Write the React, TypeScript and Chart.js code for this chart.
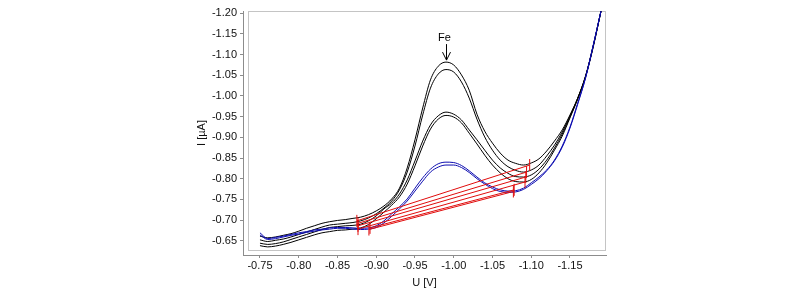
import { useEffect, useRef } from "react";
import { Chart, registerables } from "chart.js";

Chart.register(...registerables);

// ---- data ----
const xValues = [
  -0.75, -0.76, -0.77, -0.78, -0.79, -0.8, -0.81, -0.82, -0.83, -0.84,
  -0.85, -0.86, -0.87, -0.88, -0.89, -0.9, -0.91, -0.92, -0.93, -0.94,
  -0.95, -0.96, -0.97, -0.98, -0.99, -1.0, -1.01, -1.02, -1.03, -1.04,
  -1.05, -1.06, -1.07, -1.08, -1.09, -1.1, -1.11, -1.12, -1.13, -1.14,
  -1.15, -1.16, -1.17, -1.18, -1.19,
];

const blackA = [
  -0.661, -0.657, -0.659, -0.663, -0.667,
  -0.673, -0.68, -0.686, -0.692, -0.696,
  -0.699, -0.701, -0.704, -0.707, -0.713,
  -0.722, -0.734, -0.751, -0.777, -0.826,
  -0.894, -0.971, -1.039, -1.072, -1.082,
  -1.075, -1.051, -1.014, -0.956, -0.915,
  -0.886, -0.862, -0.845, -0.837, -0.833,
  -0.838, -0.848, -0.867, -0.891, -0.918,
  -0.954, -0.995, -1.046, -1.118, -1.205,
];

const blackB = [
  -0.652, -0.648, -0.651, -0.654, -0.659,
  -0.665, -0.671, -0.677, -0.683, -0.688,
  -0.69, -0.692, -0.694, -0.698, -0.705,
  -0.715, -0.729, -0.746, -0.773, -0.816,
  -0.879, -0.954, -1.019, -1.053, -1.064,
  -1.058, -1.034, -0.995, -0.944, -0.901,
  -0.869, -0.845, -0.829, -0.82, -0.816,
  -0.821, -0.833, -0.855, -0.881, -0.913,
  -0.952, -0.995, -1.048, -1.121, -1.205,
];

const blackC = [
  -0.644, -0.641, -0.643, -0.647, -0.653,
  -0.659, -0.665, -0.671, -0.677, -0.682,
  -0.684, -0.686, -0.687, -0.69, -0.698,
  -0.71, -0.727, -0.741, -0.763, -0.797,
  -0.843, -0.891, -0.93, -0.952, -0.961,
  -0.956, -0.942, -0.918, -0.894, -0.869,
  -0.845, -0.826, -0.813, -0.805, -0.804,
  -0.809, -0.823, -0.845, -0.874, -0.908,
  -0.949, -0.993, -1.046, -1.121, -1.205,
];

const blackD = [
  -0.638, -0.635, -0.637, -0.641, -0.646,
  -0.652, -0.658, -0.664, -0.669, -0.672,
  -0.675, -0.676, -0.678, -0.681, -0.689,
  -0.703, -0.719, -0.736, -0.756, -0.787,
  -0.831, -0.879, -0.92, -0.944, -0.953,
  -0.949, -0.935, -0.91, -0.884, -0.857,
  -0.833, -0.814, -0.8, -0.793, -0.792,
  -0.798, -0.814, -0.838, -0.869, -0.903,
  -0.947, -0.993, -1.046, -1.121, -1.205,
];

const blue1 = [
  -0.669, -0.655, -0.658, -0.661, -0.665,
  -0.669, -0.672, -0.676, -0.678, -0.681,
  -0.682, -0.682, -0.681, -0.68, -0.681,
  -0.686, -0.698, -0.715, -0.732, -0.751,
  -0.777, -0.802, -0.823, -0.836, -0.84,
  -0.839, -0.832, -0.819, -0.804, -0.79,
  -0.78, -0.773, -0.77, -0.771, -0.777,
  -0.79, -0.804, -0.821, -0.845, -0.879,
  -0.925, -0.983, -1.043, -1.123, -1.205,
];

const blue2 = [
  -0.664, -0.653, -0.655, -0.659, -0.663,
  -0.666, -0.67, -0.673, -0.676, -0.678,
  -0.68, -0.68, -0.678, -0.677, -0.678,
  -0.682, -0.693, -0.709, -0.727, -0.746,
  -0.77, -0.794, -0.816, -0.828, -0.833,
  -0.833, -0.827, -0.815, -0.8, -0.787,
  -0.776, -0.769, -0.767, -0.768, -0.774,
  -0.786, -0.8, -0.819, -0.843, -0.876,
  -0.922, -0.98, -1.043, -1.121, -1.205,
];

// baselines (one per curve: A, B, C, D, blue1, blue2)
const baselineStartX = [-0.875, -0.8765, -0.8765, -0.8765, -0.892, -0.8906];
const baselineStartY = [-0.698, -0.692, -0.686, -0.678, -0.681, -0.677];
const baselineEndX = [-1.098, -1.094, -1.093, -1.092, -1.078, -1.077];
const baselineEndY = [-0.833, -0.816, -0.804, -0.792, -0.773, -0.769];

const xTicks = [-0.75, -0.8, -0.85, -0.9, -0.95, -1.0, -1.05, -1.1, -1.15];
const yTicks = [-1.2, -1.15, -1.1, -1.05, -1.0, -0.95, -0.9, -0.85, -0.8, -0.75, -0.7, -0.65];

const peakLabel = "Fe";
const peakX = -0.99;
const peakY = -1.082;

const xTitle = "U [V]";
const yTitle = "I [µA]";

// ---- styles ----
const FONT = "'Liberation Sans', Arial, sans-serif";
const AXIS_COLOR = "#8c8c8c";
const BOX_COLOR = "#c4c4c4";
const TEXT_COLOR = "#111";
const BLACK = "#000000";
const BLUE = "#0c0cb0";
const RED = "#e00c0c";

const framePlugin = {
  id: "frame",
  beforeDatasetsDraw(chart: any) {
    const { ctx, chartArea: a } = chart;
    ctx.save();
    ctx.strokeStyle = BOX_COLOR;
    ctx.lineWidth = 1;
    ctx.strokeRect(a.left + 5.5, a.top + 0.5, a.right - a.left - 6, a.bottom - a.top - 5);
    ctx.restore();
  },
  afterDatasetsDraw(chart: any) {
    const { ctx } = chart;
    const px = Math.round(chart.scales.x.getPixelForValue(peakX)) + 0.5;
    const py = chart.scales.y.getPixelForValue(peakY);
    ctx.save();
    ctx.strokeStyle = BLACK;
    ctx.lineWidth = 1;
    ctx.beginPath();
    ctx.moveTo(px, py - 18);
    ctx.lineTo(px, py - 2);
    ctx.moveTo(px - 4, py - 10);
    ctx.lineTo(px, py - 2);
    ctx.lineTo(px + 4, py - 10);
    ctx.stroke();
    ctx.fillStyle = BLACK;
    ctx.font = `11px ${FONT}`;
    ctx.textAlign = "center";
    ctx.textBaseline = "middle";
    ctx.fillText(peakLabel, px - 2, py - 24);
    ctx.restore();
  },
};

export default function App() {
  const ref = useRef<HTMLCanvasElement>(null);

  useEffect(() => {
    const canvas = ref.current;
    if (!canvas) return;
    const toPts = (ys: number[]) => xValues.map((x, i) => ({ x, y: ys[i] }));

    const curveDs = (ys: number[], color: string) => ({
      data: toPts(ys),
      borderColor: color,
      borderWidth: 1,
      pointRadius: 0,
      cubicInterpolationMode: "monotone" as const,
      fill: false,
    });

    const baselineDs = baselineStartX.map((sx, i) => ({
      data: [
        { x: sx, y: baselineStartY[i] },
        { x: baselineEndX[i], y: baselineEndY[i] },
      ],
      borderColor: RED,
      borderWidth: 1,
      pointStyle: "line" as const,
      rotation: 90,
      pointRadius: 6,
      pointBorderColor: RED,
      pointBorderWidth: 1,
      tension: 0,
      fill: false,
    }));

    const chart = new Chart(canvas, {
      type: "line",
      data: {
        datasets: [
          ...baselineDs,
          curveDs(blue1, BLUE),
          curveDs(blue2, BLUE),
          curveDs(blackA, BLACK),
          curveDs(blackB, BLACK),
          curveDs(blackC, BLACK),
          curveDs(blackD, BLACK),
        ] as any,
      },
      options: {
        animation: false,
        responsive: false,
        devicePixelRatio: 1,
        events: [],
        layout: { padding: { left: 190, right: 194, top: 11, bottom: 0 } },
        plugins: { legend: { display: false }, tooltip: { enabled: false } },
        scales: {
          x: {
            type: "linear",
            reverse: true,
            min: -1.1965,
            max: -0.7281,
            afterBuildTicks: (s: any) => {
              s.ticks = xTicks.map((v) => ({ value: v }));
            },
            afterFit: (s: any) => {
              s.height = 41;
            },
            grid: { drawOnChartArea: false, drawTicks: true, tickLength: 3, color: AXIS_COLOR },
            border: { display: true, color: AXIS_COLOR },
            ticks: {
              padding: 1,
              color: TEXT_COLOR,
              font: { family: FONT, size: 11 },
              maxRotation: 0,
              autoSkip: false,
              callback: (v: any) => Number(v).toFixed(2),
            },
            title: {
              display: true,
              text: xTitle,
              color: TEXT_COLOR,
              font: { family: FONT, size: 11 },
              padding: { top: 0, bottom: 6 },
            },
          },
          y: {
            type: "linear",
            reverse: true,
            min: -1.2056,
            max: -0.6154,
            afterBuildTicks: (s: any) => {
              s.ticks = yTicks.map((v) => ({ value: v }));
            },
            afterFit: (s: any) => {
              s.width = 53;
            },
            grid: { drawOnChartArea: false, drawTicks: true, tickLength: 3, color: AXIS_COLOR },
            border: { display: true, color: AXIS_COLOR },
            ticks: {
              padding: 3,
              color: TEXT_COLOR,
              font: { family: FONT, size: 11 },
              autoSkip: false,
              callback: (v: any) => Number(v).toFixed(2),
            },
            title: {
              display: true,
              text: yTitle,
              color: TEXT_COLOR,
              font: { family: FONT, size: 11 },
              padding: { top: 5, bottom: 0 },
            },
          },
        },
      },
      plugins: [framePlugin],
    });

    return () => chart.destroy();
  }, []);

  return (
    <div style={{ position: "fixed", left: 0, top: 0, width: 800, height: 296, background: "#fff" }}>
      <canvas ref={ref} width={800} height={296} style={{ display: "block" }} />
    </div>
  );
}
